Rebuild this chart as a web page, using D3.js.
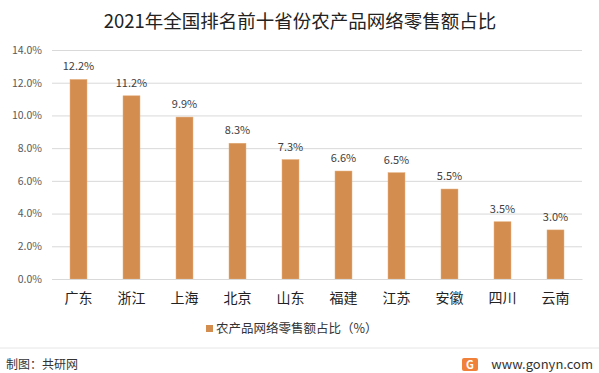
<!DOCTYPE html>
<html><head><meta charset="utf-8">
<script src="https://cdn.jsdelivr.net/npm/d3@7"></script>
<style>body{margin:0;background:#fff}svg{display:block}</style>
</head><body>
<svg id="c" width="599" height="373"></svg>
<script>
const categories = ["广东","浙江","上海","北京","山东","福建","江苏","安徽","四川","云南"];
const values = [12.2, 11.2, 9.9, 8.3, 7.3, 6.6, 6.5, 5.5, 3.5, 3.0];
const yTicks = [0, 2, 4, 6, 8, 10, 12, 14];
const title = "2021年全国排名前十省份农产品网络零售额占比";
const seriesName = "农产品网络零售额占比（%）";

const font = "'Microsoft YaHei','Noto Sans CJK SC',sans-serif";
const svg = d3.select("#c");
const x = d3.scaleBand().domain(categories).range([52, 582]).paddingInner(0.68).paddingOuter(0.34);
const y = d3.scaleLinear().domain([0, 14]).range([279, 50]);

svg.append("text").attr("x", 300).attr("y", 28).attr("text-anchor", "middle")
  .attr("font-family", font).attr("font-size", 18.5).attr("fill", "#222").text(title);

const ya = svg.append("g").attr("transform", "translate(52,0)")
  .call(d3.axisLeft(y).tickValues(yTicks).tickFormat(d => d.toFixed(1) + "%").tickSize(-530).tickPadding(10));
ya.select(".domain").remove();
ya.selectAll("line").attr("stroke", "#d9d9d9");
ya.selectAll("text").attr("font-family", font).attr("font-size", 10.5).attr("fill", "#595959");

svg.selectAll("rect.bar").data(values).join("rect").attr("class", "bar")
  .attr("x", (d, i) => x(categories[i])).attr("width", x.bandwidth())
  .attr("y", d => y(d)).attr("height", d => y(0) - y(d))
  .attr("fill", "#D38D4F").attr("stroke", "#E3AB7A").attr("stroke-width", 0.5);

svg.selectAll("text.lab").data(values).join("text").attr("class", "lab")
  .attr("x", (d, i) => x(categories[i]) + x.bandwidth() / 2).attr("y", d => y(d) - 9)
  .attr("text-anchor", "middle").attr("font-family", font).attr("font-size", 11).attr("fill", "#404040")
  .text(d => d.toFixed(1) + "%");

const xa = svg.append("g").attr("transform", "translate(0,279)")
  .call(d3.axisBottom(x).tickSize(0).tickPadding(14));
xa.select(".domain").attr("stroke", "#d9d9d9");
xa.selectAll("text").attr("font-family", font).attr("font-size", 14).attr("fill", "#222");

// legend
svg.append("rect").attr("x", 206).attr("y", 325).attr("width", 7).attr("height", 7).attr("fill", "#D38D4F");
svg.append("text").attr("x", 216).attr("y", 333).attr("font-family", font).attr("font-size", 12.5)
  .attr("fill", "#333").text(seriesName);

// footer
svg.append("line").attr("x1", 0).attr("x2", 599).attr("y1", 348).attr("y2", 348).attr("stroke", "#e6e6e6");
svg.append("text").attr("x", 6).attr("y", 369).attr("font-family", font).attr("font-size", 12)
  .attr("fill", "#333").text("制图：共研网");
svg.append("rect").attr("x", 462).attr("y", 358).attr("width", 16).attr("height", 13).attr("rx", 2).attr("fill", "#F0813A");
svg.append("text").attr("x", 470).attr("y", 369).attr("text-anchor", "middle").attr("font-family", font)
  .attr("font-size", 11).attr("font-weight", "bold").attr("fill", "#fff").text("G");
svg.append("text").attr("x", 593).attr("y", 369).attr("text-anchor", "end").attr("font-family", font)
  .attr("font-size", 13).attr("fill", "#333").text("www.gonyn.com");
</script>
</body></html>
